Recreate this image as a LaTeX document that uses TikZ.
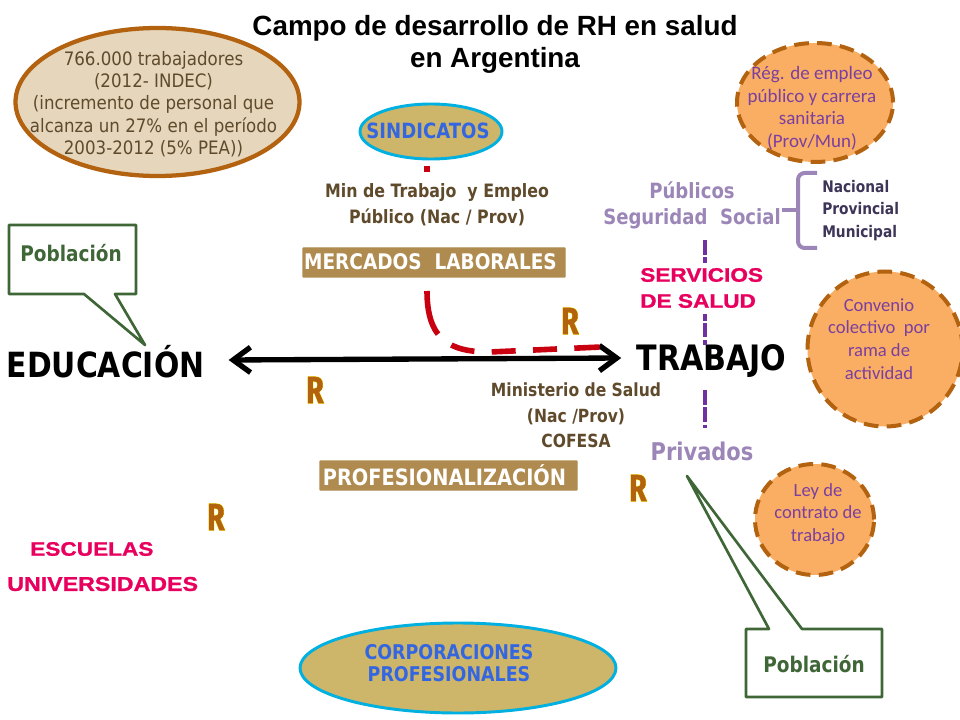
\documentclass[tikz,border=0pt]{standalone}
\usepackage{fontspec}
\setmainfont{Liberation Sans}
\newfontfamily\tahf[FakeStretch=0.9]{DejaVu Sans}
\newfontfamily\tahb[FakeStretch=0.86]{DejaVu Sans Bold}
\newfontfamily\calf{Carlito}
\newfontfamily\blkf[BoldFeatures={FakeBold=1.2,FakeStretch=1.16}]{Liberation Sans}
\newfontfamily\rfontf[FakeStretch=0.74,FakeBold=1]{Fira Sans}
\newfontfamily\rglowf[FakeStretch=0.74,FakeBold=3]{Fira Sans}
\usetikzlibrary{arrows.meta,shapes.geometric}
\definecolor{brownT}{HTML}{5F4A2B}
\definecolor{sand}{HTML}{E5D6BC}
\definecolor{rust}{HTML}{B3620F}
\definecolor{peach}{HTML}{F9AE63}
\definecolor{gold}{HTML}{CDB56A}
\definecolor{sky}{HTML}{00B0E0}
\definecolor{tanbox}{HTML}{B08B4F}
\definecolor{lilac}{HTML}{9C86B8}
\definecolor{violetT}{HTML}{7B3FA0}
\definecolor{deep}{HTML}{3D3557}
\definecolor{pinkred}{HTML}{E8005F}
\definecolor{royal}{HTML}{3366E0}
\definecolor{leaf}{HTML}{3F6636}
\definecolor{redline}{HTML}{C8000F}
\definecolor{purpleline}{HTML}{7030A0}
\newcommand{\fs}[2]{\fontsize{\dimexpr#1pt*3/4\relax}{\dimexpr#2pt*3/4\relax}\selectfont}
\newcommand{\Rmark}{\makebox[0pt]{\color{yellow}\rglowf\bfseries R}\makebox[0pt]{\color{rust}\rfontf\bfseries R}}
\tikzset{
  x=0.75pt,y=-0.75pt,
  txt/.style={inner sep=0pt,align=center,anchor=center},
  oval/.style={ellipse,draw,inner sep=0pt},
  dashcircle/.style={ellipse,draw=rust,fill=peach,line width=3pt,inner sep=0pt,dash pattern=on 11pt off 6.2pt},
  banner/.style={draw=tanbox,fill=tanbox,line width=1pt,inner sep=0pt,rounded corners=.5pt},
  callout/.style={draw=leaf,line width=2pt,fill=white,line join=round},
  vlink/.style={draw=purpleline,line width=3.2pt},
  rmk/.style={inner sep=0pt,font=\fs{38}{38}},
}
\begin{document}
\begin{tikzpicture}
\useasboundingbox (0,0) rectangle (960,720);
\fill[white] (0,0) rectangle (960,720);
% title
\node[txt,font=\bfseries\fs{27.8}{32}] (title) at (495,44) {Campo de desarrollo de RH en salud\\en Argentina};
% stat ellipse
\node[oval,draw=rust,fill=sand,line width=3.2pt,minimum width=213pt,minimum height=111pt] (stat) at (157.5,102) {};
\node[txt,text=brownT,font=\tahf\fs{18.5}{22.3}] (statT) at (153.5,104) {766.000 trabajadores\\(2012- INDEC)\\(incremento de personal que\\alcanza un 27\% en el período\\2003-2012 (5\% PEA))};
% sindicatos
\node[oval,draw=sky,fill=gold,line width=2.2pt,minimum width=106.5pt,minimum height=41.25pt] (sind) at (431,131.5) {};
\node[txt,text=royal,font=\tahb\fs{21}{24}] (sindT) at (428,131) {SINDICATOS};
\coordinate (sindA) at (427,166);
\coordinate (sindB) at (427,172);
\draw[redline,line width=4pt] (sindA) -- (sindB);
% min de trabajo
\node[txt,text=brownT,font=\tahb\fs{18.4}{26}] (min) at (437,204.5) {Min de Trabajo\ \ y Empleo\\Público (Nac / Prov)};
% banners
\node[banner,minimum width=196.5pt,minimum height=21.75pt] (merc) at (434,262.5) {};
\node[txt,text=white,font=\tahb\fs{21.5}{24}] (mercT) at (430.5,262) {MERCADOS\ \ LABORALES};
\node[banner,minimum width=192.75pt,minimum height=21.75pt] (prof) at (448.5,475.5) {};
\node[txt,text=white,font=\tahb\fs{22.5}{24}] (profT) at (444.5,475) {PROFESIONALIZACIÓN};
% main labels
\node[txt,font=\tahb\fs{34.7}{38}] (edu) at (105.5,362) {EDUCACIÓN};
\node[txt,font=\tahb\fs{35}{38}] (tra) at (711.5,361) {TRABAJO};
% main arrow
\coordinate (ea) at ([xshift=18pt,yshift=1.5pt]edu.east);
\coordinate (tb) at ([xshift=-11.25pt,yshift=2.25pt]tra.west);
\draw[{Straight Barb[length=13pt,width=19pt,line width=4pt]}-{Straight Barb[length=13pt,width=19pt,line width=4pt]},line width=4pt] (ea) -- (tb);
% red dashed
\coordinate (rd1) at (427,291);
\coordinate (rd2) at (601,347);
\draw[redline,line width=4.2pt,dash pattern=on 34pt off 13pt on 18pt off 13pt on 18pt off 13pt on 18pt off 13pt on 19pt] (rd1) .. controls (427,340) and (450,352) .. (490,352) -- (rd2);
% R marks
\node[rmk] (r1) at (570,321) {\Rmark};
\node[rmk] (r2) at (315,390) {\Rmark};
\node[rmk] (r3) at (638,488) {\Rmark};
\node[rmk] (r4) at (216,517) {\Rmark};
% Ministerio
\node[txt,text=brownT,font=\tahb\fs{18.1}{25.6}] (minis) at (576,415.5) {Ministerio de Salud\\(Nac /Prov)\\COFESA};
% servicios
\node[txt,anchor=west,text=pinkred,font=\blkf\bfseries\fs{19.5}{26},align=left] (serv) at (640,288) {SERVICIOS\\DE SALUD};
% publicos
\node[txt,text=lilac,font=\tahb\fs{21}{26.5}] (pub) at (692,205.5) {Públicos\\Seguridad\ \ Social};
\node[txt,text=lilac,font=\tahb\fs{24.4}{28}] (priv) at (702,451) {Privados};
% brace
\coordinate (b0) at (782,210);
\coordinate (b1) at (798,210);
\draw[lilac,line width=3pt,line join=round,rounded corners=5pt] (817,173) -- (798,173) -- (798,248) -- (817,248);
\draw[lilac,line width=3pt] (b0) -- (b1);
\node[txt,anchor=west,text=deep,font=\tahb\fs{16}{22.6},align=left] (nac) at (822,210.5) {Nacional\\Provincial\\Municipal};
% purple links
\coordinate (p1a) at (705,240); \coordinate (p1b) at (705,263);
\coordinate (p2a) at (705,314); \coordinate (p2b) at (705,345);
\coordinate (p3a) at (705,390); \coordinate (p3b) at (705,428);
\draw[vlink,dash pattern=on 11pt off 2pt on 5pt] (p1a) -- (p1b);
\draw[vlink,dash pattern=on 5pt off 2pt on 10.5pt off 2pt on 4pt] (p2a) -- (p2b);
\draw[vlink,dash pattern=on 11pt off 2pt on 11pt off 2pt on 4pt] (p3a) -- (p3b);
% dashed circles
\node[dashcircle,minimum width=117pt,minimum height=89.25pt] (reg) at (815,102.5) {};
\node[txt,text=violetT,font=\calf\fs{19}{22.5}] (regT) at (812,108) {Rég. de empleo\\público y carrera\\sanitaria\\(Prov/Mun)};
\node[dashcircle,minimum width=116.25pt,minimum height=116.25pt] (conv) at (885,349) {};
\node[txt,text=violetT,font=\calf\fs{18.6}{22.7}] (convT) at (879,339) {Convenio\\colectivo\ \ por\\rama de\\actividad};
\node[dashcircle,minimum width=89.25pt,minimum height=83.25pt] (ley) at (814.5,519.5) {};
\node[txt,text=violetT,font=\calf\fs{18.6}{22.5}] (leyT) at (818,514) {Ley de\\contrato de\\trabajo};
% bottom
\node[txt,anchor=west,text=pinkred,font=\blkf\bfseries\fs{19.5}{24}] (esc) at (30,549) {ESCUELAS};
\node[txt,anchor=west,text=pinkred,font=\blkf\bfseries\fs{20}{24}] (uni) at (7,584) {UNIVERSIDADES};
\node[oval,draw=sky,fill=gold,line width=2.2pt,minimum width=237pt,minimum height=67.5pt] (corp) at (458,668) {};
\node[txt,text=royal,font=\tahb\fs{20.3}{22.5}] (corpT) at (449,663) {CORPORACIONES\\PROFESIONALES};
% callouts
\draw[callout] (9,225) -- (136,225) -- (136,294) -- (115,294) -- (145,345) -- (84,294) -- (9,294) -- cycle;
\node[txt,text=leaf,font=\tahb\fs{21.5}{24}] (pob1) at (71,253) {Población};
\draw[callout] (746,629) -- (769,629) -- (687,476) -- (802,629) -- (882,629) -- (882,697) -- (746,697) -- cycle;
\node[txt,text=leaf,font=\tahb\fs{21.5}{24}] (pob2) at (814,664) {Población};
\end{tikzpicture}
\end{document}
